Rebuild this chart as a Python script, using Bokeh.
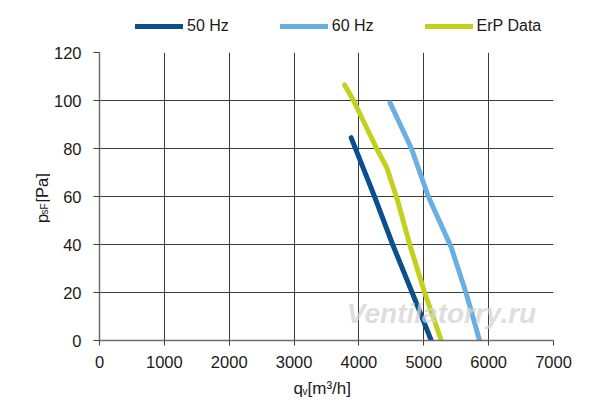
from math import pi
from bokeh.plotting import figure
from bokeh.layouts import column, row
from bokeh.models import (Range1d, FixedTicker, Legend, LegendItem, Label,
                          ColumnDataSource)
from bokeh.embed import file_html
from bokeh.resources import INLINE

# ---- data ----
q_50 = [3880, 4240, 4520, 4820, 5115]
p_50 = [84.5, 60, 40, 20, 0]

q_60 = [4480, 4810, 5070, 5420, 5650, 5860]
p_60 = [99, 80, 60, 39, 20, 0]

q_erp = [3780, 3916, 4273, 4430, 4600, 4783, 5013, 5270]
p_erp = [106.5, 100, 80, 72, 58, 40, 20, 0]

x_ticks = [0, 1000, 2000, 3000, 4000, 5000, 6000, 7000]
y_ticks = [0, 20, 40, 60, 80, 100, 120]

series_names = ["50 Hz", "60 Hz", "ErP Data"]
series_colors = ["#0a4f8e", "#6aafe1", "#c3d01c"]
series_q = [q_50, q_60, q_erp]
series_p = [p_50, p_60, p_erp]

FONT = "Liberation Sans"
TEXT_COLOR = "#1a1a1a"
LINE_KW = dict(line_width=5, line_cap="round", line_join="round")

# ---------------- main chart ----------------
p = figure(width=550, height=336, output_backend="svg", toolbar_location=None,
           x_range=Range1d(x_ticks[0], x_ticks[-1]),
           y_range=Range1d(y_ticks[0], y_ticks[-1]),
           min_border_left=46, min_border_right=47,
           min_border_top=12, min_border_bottom=36)
p.outline_line_color = None
p.background_fill_color = "white"

p.xaxis.ticker = FixedTicker(ticks=x_ticks)
p.yaxis.ticker = FixedTicker(ticks=y_ticks)
p.xaxis.minor_tick_line_color = None
p.yaxis.minor_tick_line_color = None
for ax in (p.xaxis[0], p.yaxis[0]):
    ax.major_tick_in = 0
    ax.major_tick_line_color = "#404040"
    ax.axis_line_color = "#6e6e6e"
    ax.axis_line_width = 1.5
    ax.major_label_text_font = FONT
    ax.major_label_text_font_size = "16.5px"
    ax.major_label_text_color = TEXT_COLOR
    ax.axis_label = None
p.xaxis.major_tick_out = 5
p.yaxis.major_tick_out = 6
p.xaxis.major_label_standoff = 10
p.yaxis.major_label_standoff = 12

p.xgrid.ticker = FixedTicker(ticks=x_ticks)
p.ygrid.ticker = FixedTicker(ticks=y_ticks)
p.grid.grid_line_color = "#3a3a3a"
p.grid.grid_line_width = 1

for qs, ps, c in zip(series_q, series_p, series_colors):
    src = ColumnDataSource(dict(q=qs, p=ps))
    p.line("q", "p", source=src, line_color=c, **LINE_KW)

# watermark
p.add_layout(Label(x=3814, y=11.1, text="Ventilatorry.ru", text_font=FONT,
                   text_font_style="bold italic", text_font_size="28px",
                   text_color="#d4d4d4", text_alpha=0.75,
                   text_baseline="alphabetic"))

# ---------------- strips around the chart ----------------
def strip(w, h):
    f = figure(width=w, height=h, output_backend="svg", toolbar_location=None,
               x_range=Range1d(0, w), y_range=Range1d(0, h),
               x_axis_type=None, y_axis_type=None, min_border=0)
    f.outline_line_color = None
    f.grid.visible = False
    return f

# legend strip (top); the series are repeated here only to style the swatches
# (their values lie far outside this strip's ranges, so nothing is drawn)
lf = strip(600, 40)
swatches = []
for qs, ps, c in zip(series_q, series_p, series_colors):
    swatches.append(lf.line(x=qs, y=ps, line_color=c, **LINE_KW))
legend = Legend(items=[LegendItem(label=n, renderers=[r])
                       for n, r in zip(series_names, swatches)],
                orientation="horizontal", location=(135, 4),
                glyph_width=48, glyph_height=20, label_height=20,
                label_width=40, label_standoff=4, spacing=51,
                padding=0, margin=0,
                border_line_alpha=0, background_fill_alpha=0,
                label_text_font=FONT, label_text_font_size="16px",
                label_text_color=TEXT_COLOR)
lf.add_layout(legend)

lab_kw = dict(text_color=TEXT_COLOR, text_font=FONT)

# y title: p_sF [Pa] (rotated, reading upwards)
yf = strip(50, 336)
yf.add_layout(Label(x=41, y=137, text="p", text_font_size="16.5px", angle=pi/2,
                    text_baseline="alphabetic", **lab_kw))
yf.add_layout(Label(x=44, y=147, text="sF", text_font_size="10px", angle=pi/2,
                    text_baseline="alphabetic", **lab_kw))
yf.add_layout(Label(x=41, y=161, text="[Pa]", text_font_size="16.5px", angle=pi/2,
                    text_baseline="alphabetic", **lab_kw))

# x title: q_v [m³/h]
xf = strip(600, 32)
xf.add_layout(Label(x=293, y=20, text="q", text_font_size="17px",
                    text_baseline="alphabetic", **lab_kw))
xf.add_layout(Label(x=302, y=17, text="v", text_font_size="10px",
                    text_baseline="alphabetic", **lab_kw))
xf.add_layout(Label(x=307, y=20, text="[m³/h]", text_font_size="17px",
                    text_baseline="alphabetic", **lab_kw))

layout = column(lf, row(yf, p, spacing=0), xf, spacing=0)

open("out.html", "w").write(file_html(layout, INLINE))
